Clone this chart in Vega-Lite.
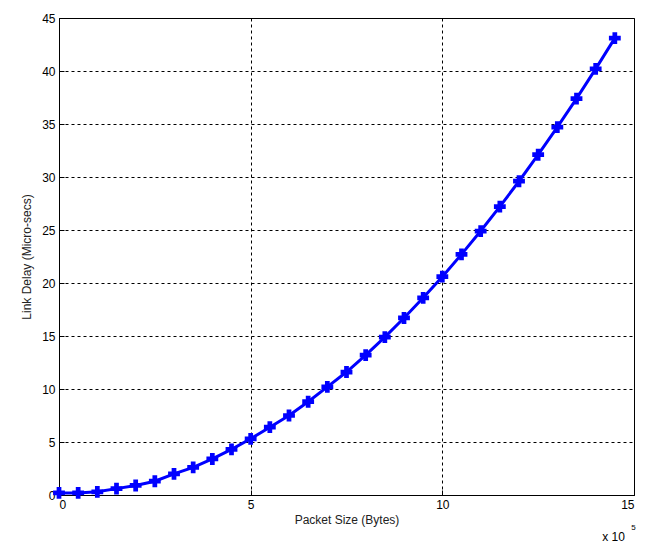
{
  "$schema": "https://vega.github.io/schema/vega-lite/v6.json",
  "width": 575,
  "height": 477,
  "autosize": {"type": "none"},
  "padding": {"left": 59, "top": 18, "right": 19, "bottom": 55},
  "background": "white",
  "config": {
    "font": "Liberation Sans",
    "view": {"stroke": "black", "strokeWidth": 1},
    "axis": {
      "labelFont": "Liberation Sans",
      "titleFont": "Liberation Sans",
      "labelFontSize": 12,
      "titleFontSize": 12,
      "titleFontWeight": "normal",
      "labelColor": "black",
      "titleColor": "#222",
      "domainColor": "black",
      "tickColor": "black",
      "gridColor": "black",
      "gridDash": [3, 3],
      "gridOpacity": 1,
      "gridWidth": 1
    }
  },
  "data": {
    "values": [
      {"size": 0, "delay": 0.2},
      {"size": 0.5, "delay": 0.2},
      {"size": 1, "delay": 0.3},
      {"size": 1.5, "delay": 0.6},
      {"size": 2, "delay": 0.9},
      {"size": 2.5, "delay": 1.3},
      {"size": 3, "delay": 2.0},
      {"size": 3.5, "delay": 2.6},
      {"size": 4, "delay": 3.4},
      {"size": 4.5, "delay": 4.3},
      {"size": 5, "delay": 5.3},
      {"size": 5.5, "delay": 6.4},
      {"size": 6, "delay": 7.5},
      {"size": 6.5, "delay": 8.8},
      {"size": 7, "delay": 10.2},
      {"size": 7.5, "delay": 11.6},
      {"size": 8, "delay": 13.2},
      {"size": 8.5, "delay": 14.9},
      {"size": 9, "delay": 16.7},
      {"size": 9.5, "delay": 18.6},
      {"size": 10, "delay": 20.6},
      {"size": 10.5, "delay": 22.7},
      {"size": 11, "delay": 24.9},
      {"size": 11.5, "delay": 27.2},
      {"size": 12, "delay": 29.6},
      {"size": 12.5, "delay": 32.1},
      {"size": 13, "delay": 34.7},
      {"size": 13.5, "delay": 37.4},
      {"size": 14, "delay": 40.2},
      {"size": 14.5, "delay": 43.1}
    ]
  },
  "encoding": {
    "x": {
      "field": "size", "type": "quantitative",
      "scale": {"domain": [0, 15], "nice": false, "zero": false},
      "axis": {"values": [0, 5, 10, 15], "title": "Packet Size (Bytes)", "tickSize": -5, "labelPadding": 9, "titlePadding": 4, "grid": true}
    },
    "y": {
      "field": "delay", "type": "quantitative",
      "scale": {"domain": [0, 45], "nice": false, "zero": false},
      "axis": {"values": [0, 5, 10, 15, 20, 25, 30, 35, 40, 45], "title": "Link Delay (Micro-secs)", "tickSize": -5, "labelPadding": 9, "titlePadding": 8, "grid": true}
    }
  },
  "layer": [
    {"mark": {"type": "line", "color": "#0000ff", "strokeWidth": 3, "clip": false}},
    {"mark": {"type": "point", "shape": "cross", "filled": true, "color": "#0000ff", "size": 140, "opacity": 1, "clip": false}},
    {
      "data": {"values": [{"tx": 14.17, "ty": -4.3, "t": "x 10"}]},
      "mark": {"type": "text", "align": "left", "baseline": "alphabetic", "fontSize": 12, "color": "black", "clip": false},
      "encoding": {"x": {"field": "tx", "type": "quantitative"}, "y": {"field": "ty", "type": "quantitative"}, "text": {"field": "t"}}
    },
    {
      "data": {"values": [{"tx": 14.93, "ty": -3.3, "t": "5"}]},
      "mark": {"type": "text", "align": "left", "baseline": "alphabetic", "fontSize": 8, "color": "black", "clip": false},
      "encoding": {"x": {"field": "tx", "type": "quantitative"}, "y": {"field": "ty", "type": "quantitative"}, "text": {"field": "t"}}
    }
  ]
}
